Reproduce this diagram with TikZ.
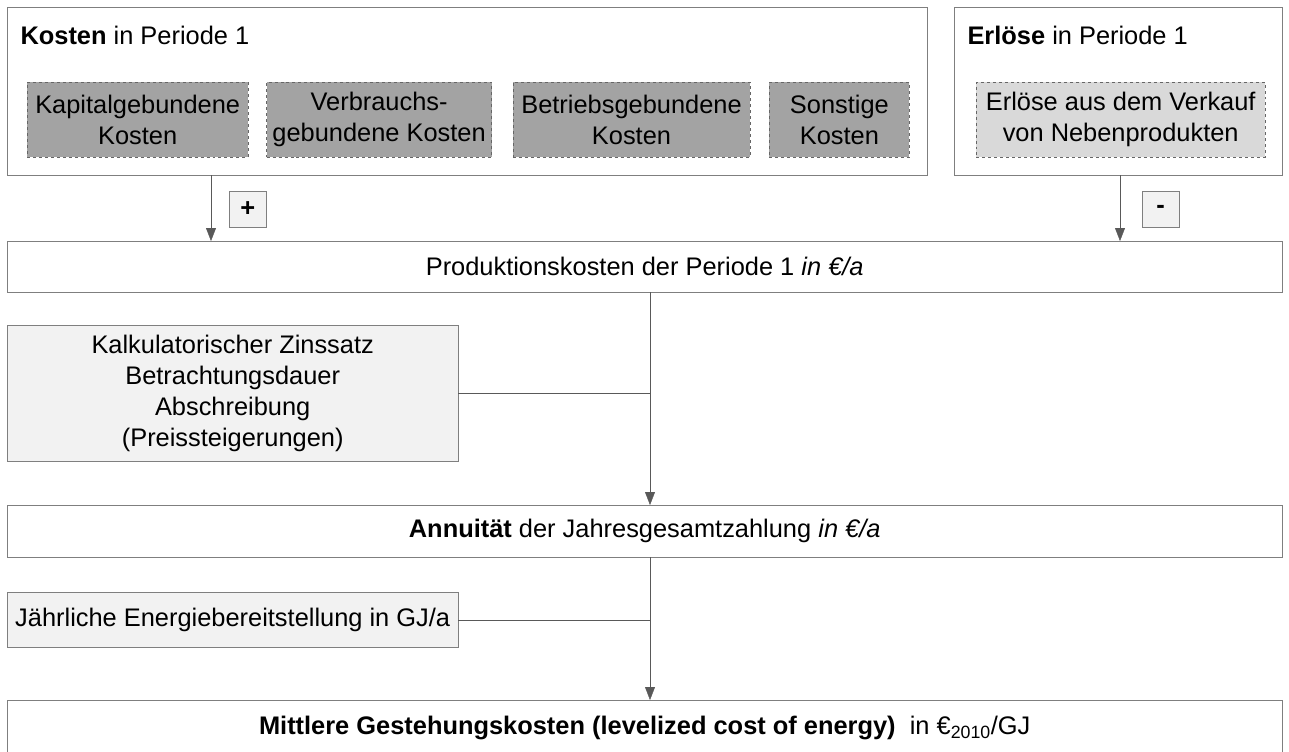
\documentclass[tikz,border=0pt]{standalone}
\usepackage{fontspec}
\setmainfont{Liberation Sans}
\usetikzlibrary{arrows.meta,positioning}

\definecolor{rahmen}{HTML}{7F7F7F}
\definecolor{linie}{HTML}{595959}
\definecolor{dunkel}{HTML}{A3A3A3}
\definecolor{hell}{HTML}{D9D9D9}
\definecolor{blass}{HTML}{F2F2F2}

\tikzset{
    box/.style={draw=rahmen,fill=white,rectangle,inner sep=0pt,anchor=north west,align=center},
    kostenart/.style={draw=rahmen!80!black,dashed,fill=dunkel,rectangle,inner sep=0pt,align=center,minimum height=75bp},
    eingabe/.style={draw=rahmen,fill=blass,rectangle,inner sep=0pt,anchor=north west,align=center},
    zeichen/.style={draw=rahmen,fill=blass,rectangle,minimum width=37bp,minimum height=36bp,inner sep=0pt}
}

\begin{document}
\begin{tikzpicture}[
        x=1bp, y=-1bp,
        >={Triangle[width=10bp,length=13bp]},
        node distance=18bp,
        every node/.append style={font=\fontsize{25.5}{31}\selectfont}
    ]
    \useasboundingbox[fill=white] (0,0) rectangle (1289,752);

%%
% Kosten und Erloese der Periode 1
    \node (kosten) [box,minimum width=920bp,minimum height=168bp] at (7,7) {};
    \node (kostentitel) [anchor=west] at ([xshift=10bp,yshift=-28bp]kosten.north west) {\textbf{Kosten} in Periode 1};
    \node (kap) [kostenart,minimum width=221bp,anchor=north west] at (27,82) {Kapitalgebundene\\Kosten};
    \node (verb) [kostenart,minimum width=225bp,right=of kap] {Verbrauchs-\\gebundene Kosten};
    \node (betr) [kostenart,minimum width=237bp,right=21bp of verb] {Betriebsgebundene\\Kosten};
    \node (sonst) [kostenart,minimum width=140bp,right=19bp of betr] {Sonstige\\Kosten};
    \node (erloese) [box,minimum width=328bp,minimum height=168bp] at (954,7) {};
    \node (erloesetitel) [anchor=west] at ([xshift=10bp,yshift=-28bp]erloese.north west) {\textbf{Erlöse} in Periode 1};
    \node (neben) [kostenart,fill=hell,minimum width=289bp,anchor=north west] at (976,82) {Erlöse aus dem Verkauf\\von Nebenprodukten};

%%
% Produktionskosten aus Kosten (+) und Erloesen (-)
    \node (prod) [box,minimum width=1275bp,minimum height=51bp] at (7,241) {Produktionskosten der Periode 1 \textit{in €/a}};
    \node (plus) [zeichen,anchor=north west] at (229,191) {\textbf{+}};
    \node (minus) [zeichen,anchor=north west] at (1142,191) {\textbf{-}};
    \draw[->,linie] ([xshift=204bp]kosten.south west) -- ([xshift=204bp]prod.north west);
    \draw[->,linie] ([xshift=166bp]erloese.south west) -- ([xshift=166bp]prod.north west -| erloese.south west);

%%
% Annuitaet
    \node (kalk) [eingabe,minimum width=451bp,minimum height=136bp] at (7,325) {Kalkulatorischer Zinssatz\\Betrachtungsdauer\\Abschreibung\\(Preissteigerungen)};
    \node (annu) [box,minimum width=1275bp,minimum height=52bp] at (7,505) {\textbf{Annuität} der Jahresgesamtzahlung \textit{in €/a}};
    \draw[->,linie] ([xshift=643bp]prod.south west) -- ([xshift=643bp]annu.north west);
    \draw[linie] (kalk.east) -- ([xshift=643bp]kalk.east -| annu.west);

%%
% Mittlere Gestehungskosten
    \node (jahr) [eingabe,minimum width=451bp,minimum height=55bp] at (7,592) {Jährliche Energiebereitstellung in GJ/a};
    \node (lcoe) [box,minimum width=1275bp,minimum height=56bp] at (7,700) {\textbf{Mittlere Gestehungskosten (levelized cost of energy)}\ \ in €\textsubscript{2010}/GJ};
    \draw[->,linie] ([xshift=643bp]annu.south west) -- ([xshift=643bp]lcoe.north west);
    \draw[linie] (jahr.east) -- ([xshift=643bp]jahr.east -| lcoe.west);

\end{tikzpicture}
\end{document}
